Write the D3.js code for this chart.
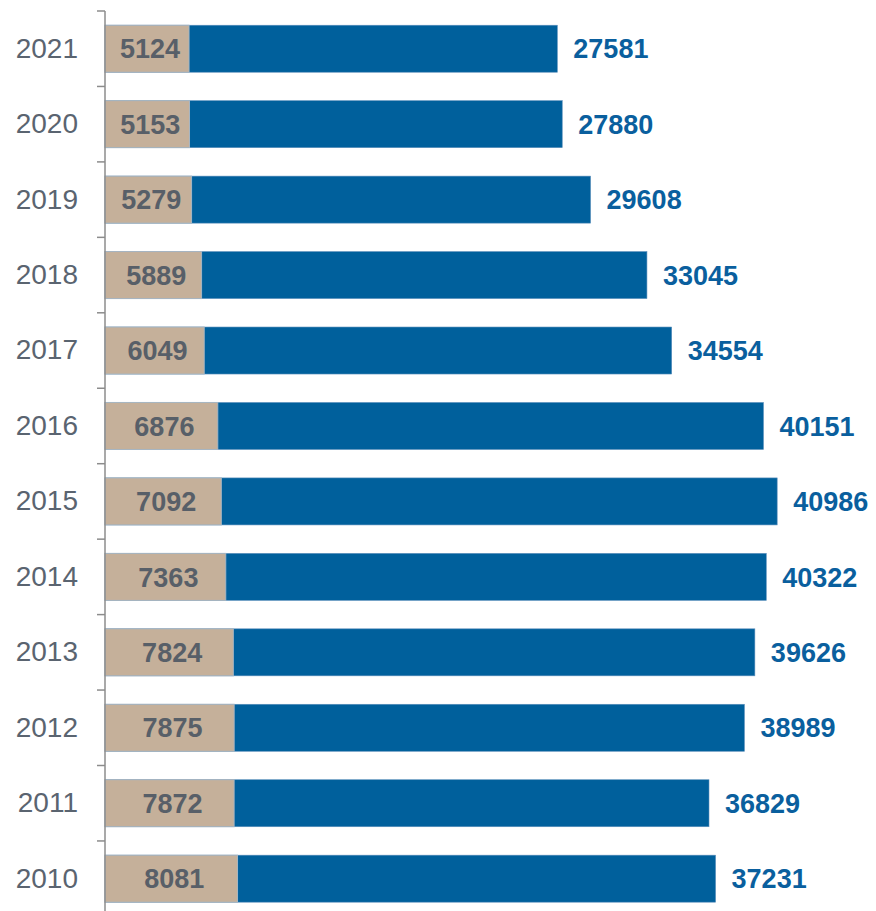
<!DOCTYPE html>
<html>
<head>
<meta charset="utf-8">
<script src="https://cdn.jsdelivr.net/npm/d3@7"></script>
<style>
  body { margin: 0; background: #fff; }
  svg { display: block; font-family: "Liberation Sans", Arial, sans-serif; }
</style>
</head>
<body>
<div id="chart"></div>
<script>
var svgWidth = 876;
var svgHeight = 911;

var years = ["2021", "2020", "2019", "2018", "2017", "2016", "2015", "2014", "2013", "2012", "2011", "2010"];
var tanValues = [5124, 5153, 5279, 5889, 6049, 6876, 7092, 7363, 7824, 7875, 7872, 8081];
var totalValues = [27581, 27880, 29608, 33045, 34554, 40151, 40986, 40322, 39626, 38989, 36829, 37231];

var axisX = 105;

var svg = d3.select("#chart")
  .append("svg")
  .attr("width", svgWidth)
  .attr("height", svgHeight);

var x = d3.scaleLinear()
  .domain([0, 50000])
  .range([axisX, axisX + 820]);

var y = d3.scaleBand()
  .domain(years)
  .range([11, 11 + 12 * 75.45])
  .paddingInner(0.377)
  .paddingOuter(0.1885);

var rows = years.map(function(yr, i) {
  return { year: yr, tan: tanValues[i], total: totalValues[i] };
});

// blue bars (full total)
svg.selectAll(".blue")
  .data(rows)
  .enter()
  .append("rect")
  .attr("class", "blue")
  .attr("x", x(0))
  .attr("y", d => y(d.year))
  .attr("width", d => x(d.total) - x(0))
  .attr("height", y.bandwidth())
  .attr("fill", "#00609c")
  .attr("stroke", "#5b8fbc")
  .attr("stroke-width", 0.6);

// tan bars
svg.selectAll(".tan")
  .data(rows)
  .enter()
  .append("rect")
  .attr("class", "tan")
  .attr("x", x(0))
  .attr("y", d => y(d.year))
  .attr("width", d => x(d.tan) - x(0))
  .attr("height", y.bandwidth())
  .attr("fill", "#c5b09a")
  .attr("stroke", "#a8b6c2")
  .attr("stroke-width", 1);

// tan labels
svg.selectAll(".tanLabel")
  .data(rows)
  .enter()
  .append("text")
  .attr("x", d => (x(0) + x(d.tan)) / 2 + 3)
  .attr("y", d => y(d.year) + y.bandwidth() / 2)
  .attr("dy", "0.36em")
  .attr("text-anchor", "middle")
  .attr("font-size", "27px")
  .attr("font-weight", "bold")
  .attr("fill", "#585f68")
  .text(d => d.tan);

// total labels
svg.selectAll(".totalLabel")
  .data(rows)
  .enter()
  .append("text")
  .attr("x", d => x(d.total) + 16)
  .attr("y", d => y(d.year) + y.bandwidth() / 2)
  .attr("dy", "0.36em")
  .attr("font-size", "27px")
  .attr("font-weight", "bold")
  .attr("fill", "#0a5f9e")
  .text(d => d.total);

// year axis labels
var yAxis = svg.append("g")
  .attr("transform", `translate(${axisX}, 0)`)
  .call(d3.axisLeft(y).tickSize(0).tickPadding(27));

yAxis.select(".domain").remove();
yAxis.selectAll("text")
  .attr("font-size", "28px")
  .attr("font-family", "\"Liberation Sans\", Arial, sans-serif")
  .attr("fill", "#5a6470");

// axis line and boundary ticks
svg.append("line")
  .attr("x1", axisX)
  .attr("x2", axisX)
  .attr("y1", y.range()[0])
  .attr("y2", svgHeight)
  .attr("stroke", "#8c8c8c")
  .attr("stroke-width", 1.5);

var halfGap = y.step() * y.paddingInner() / 2;
svg.selectAll(".bTick")
  .data(years)
  .enter()
  .append("line")
  .attr("x1", axisX - 8)
  .attr("x2", axisX)
  .attr("y1", d => y(d) - halfGap)
  .attr("y2", d => y(d) - halfGap)
  .attr("stroke", "#8c8c8c")
  .attr("stroke-width", 1.5);
</script>
</body>
</html>
